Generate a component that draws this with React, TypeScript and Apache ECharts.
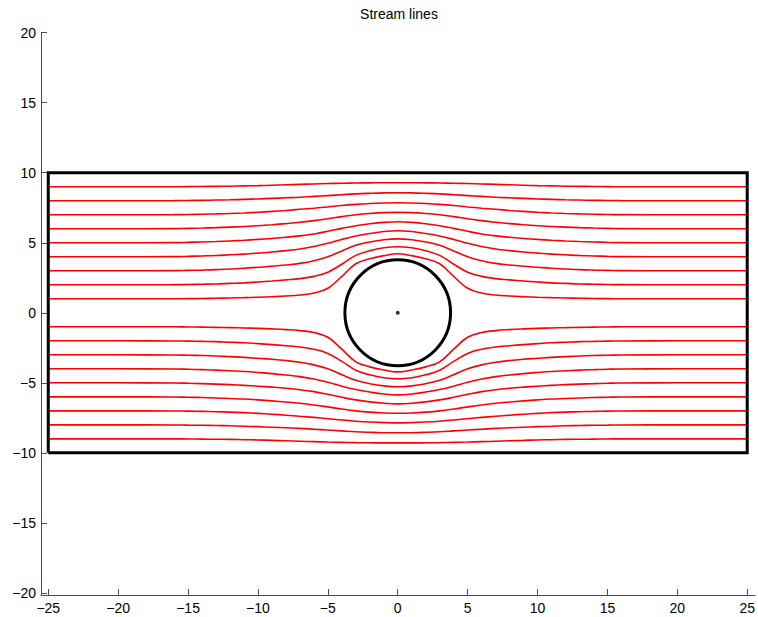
import React, { useEffect, useRef } from "react";
import * as echarts from "echarts";

// Tick values
const xTicks = [-25, -20, -15, -10, -5, 0, 5, 10, 15, 20, 25];
const yTicks = [-20, -15, -10, -5, 0, 5, 10, 15, 20];

// Sample x positions of the left half of each streamline (curves are symmetric about x = 0)
const halfX = [-25, -20, -16, -15, -14, -13, -12, -11, -10, -9, -8, -7, -6, -5, -4, -3, -2, -1, 0];

// Upper streamlines (far-field height 9 ... 1), y read at halfX
const line9 = [9.0, 9.0, 9.0, 9.01, 9.02, 9.03, 9.04, 9.06, 9.08, 9.11, 9.14, 9.17, 9.2, 9.23, 9.25, 9.27, 9.28, 9.29, 9.29];
const line8 = [8.0, 8.0, 8.01, 8.02, 8.03, 8.05, 8.07, 8.1, 8.13, 8.17, 8.21, 8.25, 8.31, 8.37, 8.43, 8.49, 8.53, 8.56, 8.57];
const line7 = [7.0, 7.0, 7.01, 7.02, 7.04, 7.06, 7.09, 7.13, 7.18, 7.24, 7.31, 7.39, 7.47, 7.56, 7.66, 7.74, 7.8, 7.84, 7.86];
const line6 = [6.0, 6.0, 6.01, 6.03, 6.05, 6.08, 6.12, 6.16, 6.22, 6.29, 6.37, 6.46, 6.58, 6.72, 6.87, 7.0, 7.09, 7.15, 7.17];
const line5 = [5.0, 5.0, 5.01, 5.03, 5.06, 5.09, 5.13, 5.18, 5.24, 5.31, 5.39, 5.49, 5.63, 5.82, 6.03, 6.22, 6.36, 6.46, 6.5];
const line4 = [4.0, 4.0, 4.01, 4.03, 4.06, 4.09, 4.14, 4.19, 4.26, 4.34, 4.44, 4.56, 4.73, 4.96, 5.24, 5.48, 5.66, 5.8, 5.86];
const line3 = [3.0, 3.0, 3.01, 3.03, 3.05, 3.08, 3.13, 3.18, 3.25, 3.32, 3.41, 3.53, 3.72, 4.0, 4.42, 4.82, 5.06, 5.22, 5.28];
const line2 = [2.0, 2.0, 2.01, 2.02, 2.04, 2.06, 2.1, 2.14, 2.2, 2.27, 2.35, 2.44, 2.6, 2.9, 3.47, 4.1, 4.43, 4.64, 4.72];
const line1 = [1.0, 1.0, 1.0, 1.01, 1.02, 1.04, 1.06, 1.08, 1.11, 1.15, 1.2, 1.27, 1.41, 1.75, 2.6, 3.5, 3.86, 4.08, 4.22];

const upperLines = [line9, line8, line7, line6, line5, line4, line3, line2, line1];

// Channel box corners and cylinder (cx, cy, r)
const boxX = [-25, 25, 25, -25, -25];
const boxY = [-10, -10, 10, 10, -10];
const cylinder = [0, 0, 3.78];
const centerPoint = [0, 0];

function buildLine(ys: number[], sign: number): number[][] {
  const pts: number[][] = [];
  for (let i = 0; i < halfX.length; i++) pts.push([halfX[i], sign * ys[i]]);
  for (let i = halfX.length - 2; i >= 0; i--) pts.push([-halfX[i], sign * ys[i]]);
  return pts;
}

const fmt = (v: number) => (v < 0 ? "\u2212" + Math.abs(v) : String(v));

export default function App() {
  const ref = useRef<HTMLDivElement>(null);
  useEffect(() => {
    if (!ref.current) return;
    const chart = echarts.init(ref.current, null, { renderer: "svg" });
    const font = "Liberation Sans, Arial, Helvetica, sans-serif";
    const streamSeries: any[] = [];
    upperLines.forEach((ys) => {
      [1, -1].forEach((s) => {
        streamSeries.push({
          type: "line",
          data: buildLine(ys, s),
          showSymbol: false,
          smooth: 0.4,
          lineStyle: { color: "#ff0000", width: 1.6 },
          silent: true,
          z: 2,
        });
      });
    });
    chart.setOption({
      animation: false,
      backgroundColor: "#ffffff",
      textStyle: { fontFamily: font },
      grid: { left: 41, right: 1.3, top: 32.7, bottom: 22 },
      graphic: [
        {
          type: "text",
          x: 399,
          y: 14,
          style: {
            text: "Stream lines",
            fill: "#000",
            font: "14px " + font,
            textAlign: "center",
            textVerticalAlign: "middle",
          },
        },
      ],
      xAxis: {
        type: "value",
        min: -25.52,
        max: 25.57,
        splitLine: { show: false },
        axisLine: { onZero: false, lineStyle: { color: "#4d4d4d", width: 1 } },
        axisTick: { inside: true, length: 6, customValues: xTicks, lineStyle: { color: "#4d4d4d" } },
        axisLabel: { customValues: xTicks, formatter: fmt, color: "#000", fontSize: 14, margin: 6, fontFamily: font },
      },
      yAxis: {
        type: "value",
        min: -20.15,
        max: 20,
        splitLine: { show: false },
        axisLine: { onZero: false, lineStyle: { color: "#4d4d4d", width: 1 } },
        axisTick: { inside: true, length: 6, customValues: yTicks, lineStyle: { color: "#4d4d4d" } },
        axisLabel: { customValues: yTicks, formatter: fmt, color: "#000", fontSize: 14, margin: 5, fontFamily: font },
      },
      series: [
        ...streamSeries,
        {
          type: "line",
          data: boxX.map((x, i) => [x, boxY[i]]),
          showSymbol: false,
          lineStyle: { color: "#000", width: 3, join: "miter" },
          silent: true,
          z: 3,
        },
        {
          type: "custom",
          data: [cylinder],
          encode: { x: 0, y: 1 },
          silent: true,
          z: 4,
          renderItem: (_params: any, api: any) => {
            const c = api.coord([api.value(0), api.value(1)]);
            const s = api.size([api.value(2), api.value(2)]);
            return {
              type: "ellipse",
              shape: { cx: c[0], cy: c[1], rx: s[0], ry: s[1] },
              style: { fill: "none", stroke: "#000", lineWidth: 3 },
            };
          },
        },
        {
          type: "scatter",
          data: [centerPoint],
          symbolSize: 4,
          itemStyle: { color: "#000" },
          silent: true,
          z: 5,
        },
      ],
    });
    return () => chart.dispose();
  }, []);
  return <div ref={ref} style={{ position: "fixed", left: 0, top: 0, width: 758, height: 617 }} />;
}
